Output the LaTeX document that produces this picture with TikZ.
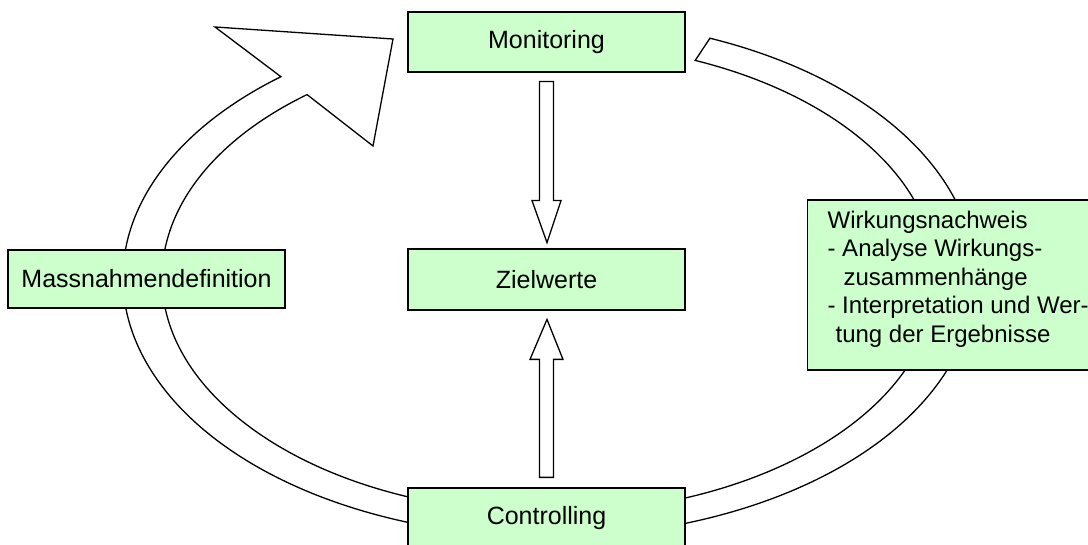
\documentclass[tikz,border=0pt]{standalone}
\usepackage{fontspec}
\setmainfont{Liberation Sans}
\usetikzlibrary{calc}
\definecolor{boxgreen}{RGB}{204,255,204}
\begin{document}
\begin{tikzpicture}[x=1pt,y=1pt,
  box/.style={draw=black, line width=1.2pt, fill=boxgreen, font=\fontsize{25}{28.5}\selectfont, inner sep=0pt},
  multibox/.style={box, font=\fontsize{24}{28.5}\selectfont},
  ring/.style={draw=black, line width=1.3pt, fill=white, line join=miter},
  blockarrow/.style={draw=black, line width=1.3pt, fill=white}]
\useasboundingbox (0,0) rectangle (1088,545);
\coordinate (c) at (549,267);
% ring arrow
\draw[ring] ($(c)+(67.8:426pt and 259pt)$)
  arc[start angle=67.8, end angle=-231, x radius=426pt, y radius=259pt]
  -- (215,518) -- (393,506) -- (373,399)
  -- ($(c)+(-231.3:387pt and 235pt)$)
  arc[start angle=-231.3, end angle=67.8, x radius=387pt, y radius=235pt]
  -- cycle;
% boxes
\node[box, minimum width=277pt, minimum height=60pt] (mon) at (546.5,503) {Monitoring};
\node[box, minimum width=277pt, minimum height=61pt] (ziel) at (546.5,265.5) {Zielwerte};
\node[box, minimum width=277pt, minimum height=60pt] (ctrl) at (546.5,27) {Controlling};
\node[box, minimum width=277pt, minimum height=58pt] (mass) at (146.5,266) {Massnahmendefinition};
\node[multibox, anchor=west, minimum height=170pt, inner xsep=20pt, align=left] (wirk) at (807,260)
  {Wirkungsnachweis\\- Analyse Wirkungs-\\\hspace*{16pt}zusammenhänge\\- Interpretation und Wer-\\\hspace*{8pt}tung der Ergebnisse\rule[-17pt]{0pt}{17pt}};
% block arrows
\draw[blockarrow, shift={(mon.south)}] (-7,-9) -- (7,-9) -- (7,-128) -- (14.5,-128) -- (0.5,-170) -- (-14.5,-128) -- (-7,-128) -- cycle;
\draw[blockarrow, shift={(ctrl.north)}] (-7,10) -- (7,10) -- (7,128) -- (16.5,128) -- (0.5,168) -- (-16.5,128) -- (-7,128) -- cycle;
\end{tikzpicture}
\end{document}
